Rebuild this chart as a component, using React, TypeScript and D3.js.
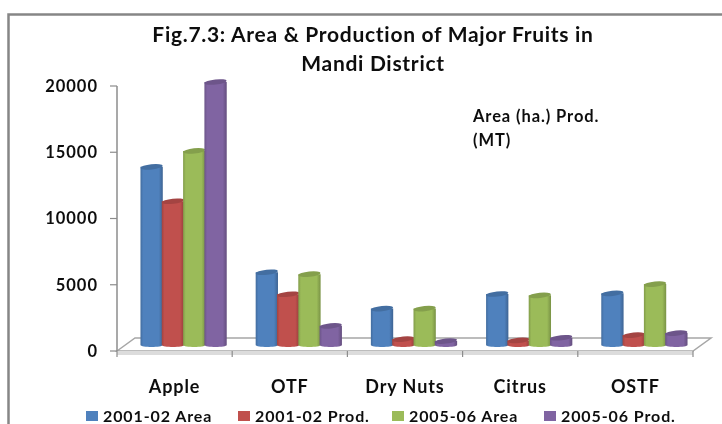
import React from 'react';
import * as d3 from 'd3';

const categories = ['Apple', 'OTF', 'Dry Nuts', 'Citrus', 'OSTF'];
const seriesNames = ['2001-02 Area', '2001-02 Prod.', '2005-06 Area', '2005-06 Prod.'];
const area2001 = [13600, 5640, 2900, 4000, 4050];
const prod2001 = [11000, 3980, 600, 500, 900];
const area2005 = [14800, 5500, 2900, 3900, 4750];
const prod2005 = [20000, 1600, 450, 700, 1050];
const yTicks = [0, 5000, 10000, 15000, 20000];
const colors = ['#4f81bd', '#c0504d', '#9bbb59', '#8064a2'];
const legendX = [86, 238, 392, 544];

const W = 722;
const H = 424;
const font = 'Lato, "Open Sans", sans-serif';

const x = d3.scaleBand<string>().domain(categories).range([117, 693]).paddingInner(0.26).paddingOuter(0.13);
const xEdge = d3.scaleBand<string>().domain(categories).range([117, 693]);
const sub = d3.scaleBand<number>().domain([0, 1, 2, 3]).range([0, x.bandwidth()]);
const y = d3.scaleLinear().domain([0, 20000]).range([351, 86]);

// 3d depth of the chart floor and where the bars stand in it
const depthX = 18;
const depthY = 13;
const barDx = 9;
const barDy = 4;
const ry = 2.6;

const series = [area2001, prod2001, area2005, prod2005];

const Cylinder = ({ cx, top, base, rx, i }: { cx: number; top: number; base: number; rx: number; i: number }) => {
  const p = d3.path();
  p.moveTo(cx - rx, top);
  p.lineTo(cx - rx, base);
  p.bezierCurveTo(cx - rx, base + ry, cx + rx, base + ry, cx + rx, base);
  p.lineTo(cx + rx, top);
  p.closePath();
  return (
    <g>
      <path d={p.toString()} fill={`url(#grad${i})`} />
      <ellipse
        cx={cx}
        cy={top}
        rx={rx}
        ry={ry}
        fill={d3.color(colors[i])!.darker(0.45).toString()}
        transform={`rotate(-6 ${cx} ${top})`}
      />
    </g>
  );
};

export default function App() {
  return (
    <svg
      width={W}
      height={H}
      style={{ position: 'absolute', left: 0, top: 0, display: 'block', background: '#fff' }}
    >
      <defs>
        {colors.map((c, i) => (
          <linearGradient key={c} id={`grad${i}`} x1="0" x2="1" y1="0" y2="0">
            <stop offset="0" stopColor={d3.color(c)!.darker(0.5).toString()} />
            <stop offset="0.12" stopColor={c} />
            <stop offset="0.82" stopColor={c} />
            <stop offset="1" stopColor={d3.color(c)!.darker(0.7).toString()} />
          </linearGradient>
        ))}
        <filter id="soft" x="-5%" y="-5%" width="110%" height="110%">
          <feGaussianBlur stdDeviation="0.4" />
        </filter>
      </defs>

      {/* chart frame */}
      <path d={`M8.5,${H} V14.5 H${W}`} fill="none" stroke="#868686" strokeWidth={2.5} />

      {/* floor */}
      <path
        d={`M117,351 L${117 + depthX},${351 - depthY} H${693 + depthX} L693,351 Z`}
        fill="#fff"
        stroke="#a6a6a6"
        strokeWidth={1.5}
      />
      <rect x={117} y={351} width={576} height={4} fill="#dcdcdc" />

      {/* y axis */}
      <line x1={117} x2={117} y1={y(20000)} y2={y(0)} stroke="#8c8c8c" strokeWidth={1.5} />
      {yTicks.map((t) => (
        <g key={t}>
          <line x1={110} x2={117} y1={y(t)} y2={y(t)} stroke="#8c8c8c" strokeWidth={1.2} />
          <text
            x={98}
            y={y(t)}
            dy="0.35em"
            textAnchor="end"
            fontFamily={font}
            fontSize={16.5}
            fontWeight={700}
            letterSpacing={1}
            fill="#111"
            filter="url(#soft)"
          >
            {t}
          </text>
        </g>
      ))}

      {/* x ticks */}
      {categories.map((c) => (
        <line
          key={c}
          x1={xEdge(c)!}
          x2={xEdge(c)!}
          y1={351}
          y2={357}
          stroke="#8c8c8c"
          strokeWidth={1.2}
        />
      ))}
      <line x1={693} x2={693} y1={351} y2={357} stroke="#8c8c8c" strokeWidth={1.2} />

      {/* bars */}
      {categories.map((c, ci) =>
        series.map((vals, i) => (
          <Cylinder
            key={`${c}${i}`}
            i={i}
            cx={x(c)! + barDx + sub(i)! + sub.bandwidth() / 2}
            rx={sub.bandwidth() / 2 + 0.5}
            top={y(vals[ci]) - barDy}
            base={y(0) - barDy - 2}
          />
        )),
      )}

      {/* category labels */}
      {categories.map((c) => (
        <text
          key={c}
          x={xEdge(c)! + xEdge.bandwidth() / 2}
          y={393}
          textAnchor="middle"
          fontFamily={font}
          fontSize={18}
          fontWeight={700}
          letterSpacing={0.9}
          fill="#111"
          filter="url(#soft)"
        >
          {c}
        </text>
      ))}

      {/* title */}
      <g
        fontFamily={font}
        fontSize={21}
        fontWeight={700}
        letterSpacing={0.7}
        textAnchor="middle"
        fill="#111"
        filter="url(#soft)"
      >
        <text x={373} y={42}>Fig.7.3: Area &amp; Production of Major Fruits in</text>
        <text x={373} y={71}>Mandi District</text>
      </g>

      {/* note inside the plot */}
      <g fontFamily={font} fontSize={16.5} fontWeight={700} letterSpacing={0.9} fill="#111" filter="url(#soft)">
        <text x={473} y={122}>Area (ha.) Prod.</text>
        <text x={473} y={146}>(MT)</text>
      </g>

      {/* legend */}
      {seriesNames.map((s, i) => (
        <g key={s}>
          <rect x={legendX[i]} y={411} width={12} height={10} fill={colors[i]} />
          <text
            x={legendX[i] + 17}
            y={421.5}
            fontFamily={font}
            fontSize={16}
            fontWeight={700}
            letterSpacing={0.9}
            fill="#111"
            filter="url(#soft)"
          >
            {s}
          </text>
        </g>
      ))}
    </svg>
  );
}
